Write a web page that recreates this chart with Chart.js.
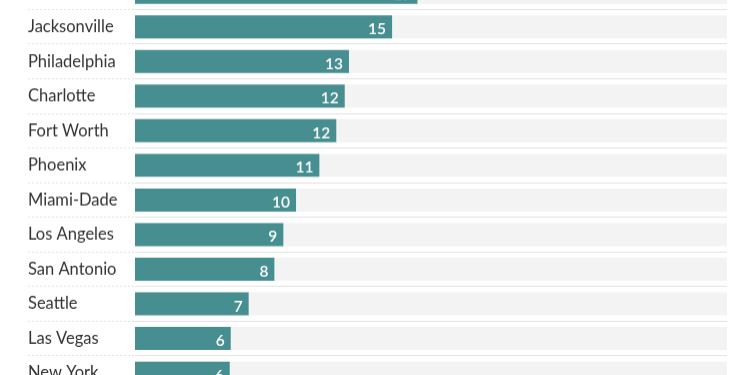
<!DOCTYPE html>
<html>
<head>
<meta charset="utf-8">
<script src="https://cdn.jsdelivr.net/npm/chart.js@4"></script>
<style>
  html, body { margin: 0; padding: 0; background: #fff; overflow: hidden; }
  .wrap { position: absolute; left: 0; top: -34.8px; width: 750px; height: 434.3px; }
</style>
</head>
<body>
<div class="wrap"><canvas class="chart"></canvas></div>
<script>
const cities = [
  '',
  'Jacksonville',
  'Philadelphia',
  'Charlotte',
  'Fort Worth',
  'Phoenix',
  'Miami-Dade',
  'Los Angeles',
  'San Antonio',
  'Seattle',
  'Las Vegas',
  'New York'
];
const values = [16.7, 15.2, 12.65, 12.4, 11.9, 10.9, 9.52, 8.77, 8.24, 6.72, 5.66, 5.6];
const valueLabels = ['17', '15', '13', '12', '12', '11', '10', '9', '8', '7', '6', '6'];
const axisMax = 35;

const teal = '#468e90';
const track = '#f3f3f3';

// white numbers at the end of each bar
const barLabels = {
  id: 'barLabels',
  afterDatasetsDraw(chart) {
    const ctx = chart.ctx;
    const meta = chart.getDatasetMeta(0);
    ctx.save();
    ctx.fillStyle = '#fff';
    ctx.font = '600 15.5px Lato';
    ctx.textAlign = 'right';
    ctx.textBaseline = 'middle';
    meta.data.forEach((bar, i) => {
      ctx.fillText(valueLabels[i], bar.x - 6, bar.y + 2.5);
    });
    ctx.restore();
  }
};

const myChart = new Chart(document.querySelector('.chart'), {
  type: 'bar',
  data: {
    labels: cities,
    datasets: [
      {
        data: values,
        backgroundColor: teal,
        barPercentage: 0.665,
        categoryPercentage: 1
      },
      {
        data: cities.map(() => axisMax),
        backgroundColor: track,
        barPercentage: 0.665,
        categoryPercentage: 1
      }
    ]
  },
  plugins: [barLabels],
  options: {
    indexAxis: 'y',
    responsive: true,
    maintainAspectRatio: false,
    animation: false,
    layout: { padding: { left: 28, right: 23, top: 0, bottom: 0 } },
    plugins: {
      legend: { display: false },
      tooltip: { enabled: false }
    },
    datasets: { bar: { grouped: false } },
    scales: {
      x: {
        display: false,
        min: 0,
        max: axisMax
      },
      y: {
        afterFit(axis) { axis.width = 107; },
        border: { display: false },
        grid: {
          offset: true,
          color: '#e2e2e2',
          lineWidth: 1,
          borderDash: [2, 2],
          tickBorderDash: [2, 2],
          tickColor: '#e2e2e2',
          drawTicks: true,
          tickLength: 107
        },
        ticks: {
          crossAlign: 'far',
          padding: 0,
          color: '#333',
          font: { family: 'Lato', size: 16.5 }
        }
      }
    }
  }
});
</script>
</body>
</html>
